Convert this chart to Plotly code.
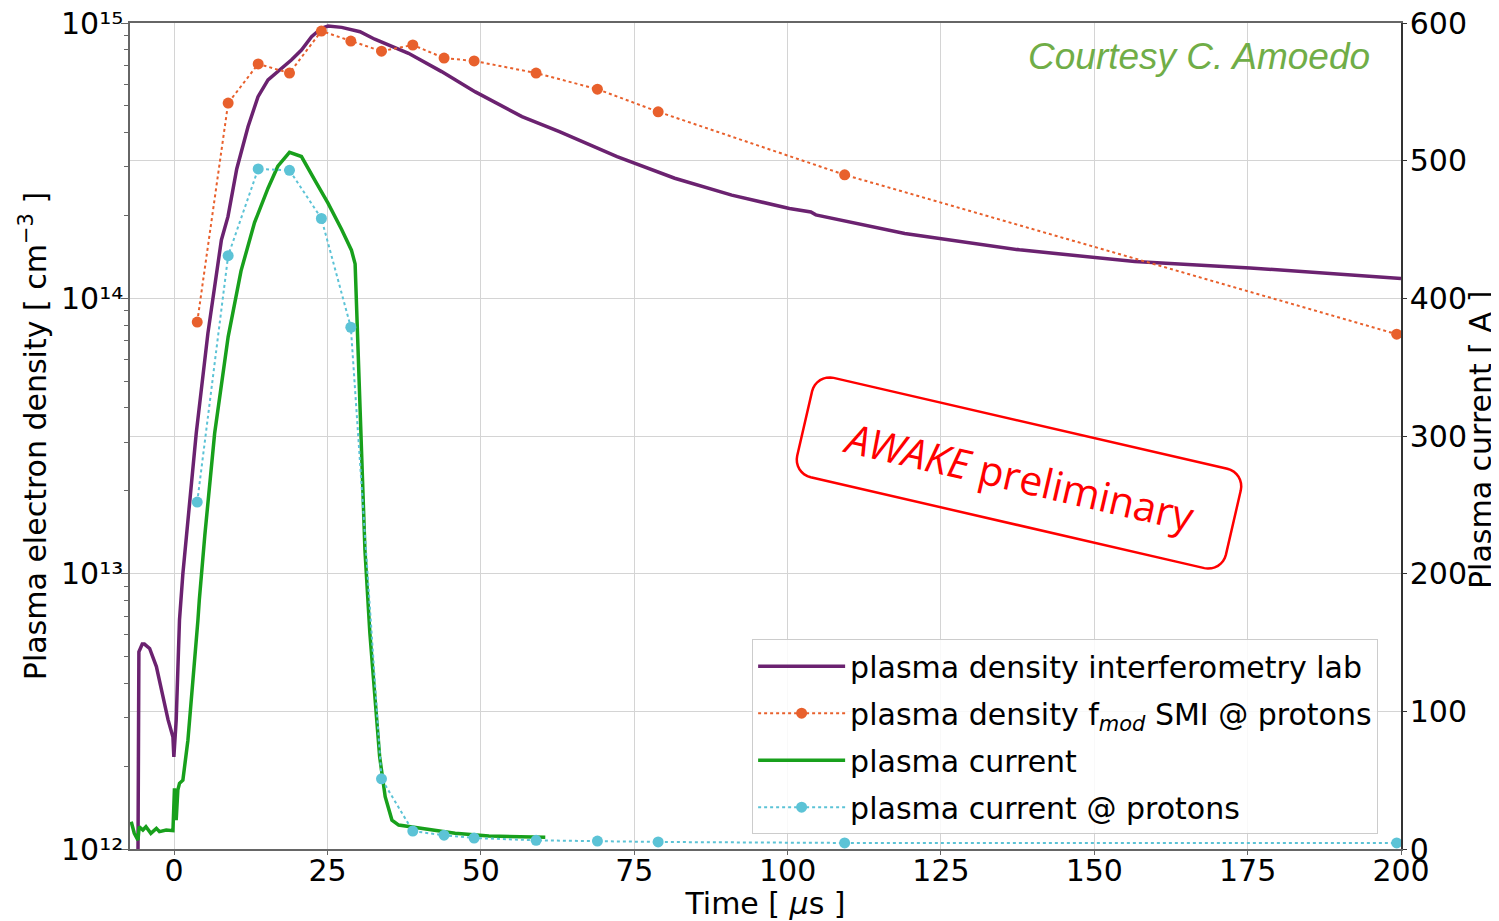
import math
import plotly.graph_objects as go

# ---------------- data ----------------
# plasma density interferometry lab (left axis, cm^-3)
dens_t = [-6.0, -5.75, -5.2, -4.85, -4.0, -2.9, -1.85, -1.0, -0.2, -0.05, 0.33, 0.87, 1.42,
          3.6, 5.5, 7.7, 8.77, 10.2, 12.04, 13.67, 15.3, 17.5, 19.1, 20.75, 22.4, 24.0, 25.1,
          27.3, 30.3, 32.7, 34.9, 38.2, 43.6, 49.1, 56.7, 62.8, 72.2, 81.6, 90.9, 100.3,
          103.8, 104.6, 119.1, 137.8, 156.6, 175.4, 200.0]
dens_v = [3e11, 5.2e12, 5.55e12, 5.55e12, 5.35e12, 4.6e12, 3.6e12, 2.95e12, 2.55e12, 2.16e12,
          2.94e12, 6.8e12, 1.0e13, 3.24e13, 7.46e13, 1.63e14, 1.98e14, 2.95e14, 4.2e14, 5.4e14,
          6.21e14, 6.84e14, 7.34e14, 7.98e14, 8.92e14, 9.57e14, 9.75e14, 9.64e14, 9.3e14,
          8.73e14, 8.32e14, 7.76e14, 6.66e14, 5.62e14, 4.57e14, 4.03e14, 3.27e14, 2.73e14,
          2.37e14, 2.12e14, 2.06e14, 2.01e14, 1.72e14, 1.50e14, 1.36e14, 1.29e14, 1.18e14]

# plasma density f_mod SMI @ protons (left axis)
smi_t = [3.76, 8.8, 13.7, 18.8, 24.0, 28.8, 33.8, 38.9, 44.0, 48.9, 59.0, 69.0, 78.9, 109.3, 199.3]
smi_v = [8.2e13, 5.12e14, 7.1e14, 6.58e14, 9.35e14, 8.6e14, 7.9e14, 8.32e14, 7.46e14, 7.28e14,
         6.58e14, 5.75e14, 4.76e14, 2.81e14, 7.41e13]

# plasma current (right axis, A)
cur_t = [-7.0, -6.5, -5.9, -5.7, -5.1, -4.6, -3.8, -2.9, -2.4, -1.3, -0.2, 0.05, 0.33, 0.6,
         0.87, 1.42, 2.24, 3.3, 3.87, 4.1, 5.0, 6.6, 8.8, 10.9, 13.1, 15.3, 16.9, 18.8, 20.75,
         22.9, 25.1, 27.3, 28.9, 29.5, 29.7, 30.0, 31.1, 31.9, 32.7, 33.5, 34.4, 35.5, 36.6,
         40.4, 45.8, 51.3, 60.5]
cur_v = [19.8, 11.4, 6.5, 16.2, 13.8, 16.2, 11.4, 15.0, 12.6, 13.8, 13.3, 44, 21, 42.9,
         47.7, 50, 79, 132, 166, 181, 228, 302, 372, 420, 455, 480, 496, 506, 503,
         486, 469, 450, 435, 425, 399, 362, 217, 157, 108, 67, 38, 21, 17.4,
         15, 11.4, 9.4, 8.5]

# plasma current @ protons (right axis)
cp_t = smi_t
cp_v = [252, 431, 494, 493, 458, 379, 51, 13, 10, 8, 6.3, 5.8, 5.1, 4.4, 4.4]

x_ticks = [0, 25, 50, 75, 100, 125, 150, 175, 200]
y_major = [1e12, 1e13, 1e14, 1e15]
y_major_text = ["10¹²", "10¹³", "10¹⁴", "10¹⁵"]
y_minor = [m * 10 ** e for e in (12, 13, 14) for m in range(2, 10)]
y2_ticks = [0, 100, 200, 300, 400, 500, 600]

PURPLE = "#6b2270"
ORANGE = "#e8602c"
GREEN = "#18a01c"
CYAN = "#5cc3d6"
FONT = "DejaVu Sans"

# ---------------- figure ----------------
fig = go.Figure()
fig.add_trace(go.Scatter(x=dens_t, y=dens_v, mode="lines", name="plasma density interferometry lab",
                         line=dict(color=PURPLE, width=3.5), legendgroup="a", yaxis="y"))
fig.add_trace(go.Scatter(x=smi_t, y=smi_v, mode="lines+markers",
                         name="plasma density f<sub><i>mod</i></sub> SMI @ protons",
                         line=dict(color=ORANGE, width=2, dash="dot"),
                         marker=dict(color=ORANGE, size=11), legendgroup="b", yaxis="y"))
fig.add_trace(go.Scatter(x=cur_t, y=cur_v, mode="lines", name="plasma current",
                         line=dict(color=GREEN, width=3.5), legendgroup="c", yaxis="y2"))
fig.add_trace(go.Scatter(x=cp_t, y=cp_v, mode="lines+markers", name="plasma current @ protons",
                         line=dict(color=CYAN, width=2, dash="dot"),
                         marker=dict(color=CYAN, size=11), legendgroup="d", yaxis="y2"))

# page offset caused by the default body margin of the html page
OFF = 8
FIG_W, FIG_H = 1499 - OFF, 921 - OFF
# plot area in page pixels
L, T, R, B = 130, 23, 1401, 849
PW, PH = R - L, B - T


def paper(px, py):
    return (px - L) / PW, (B - py) / PH


# rotated rounded rectangle stamp
cx, cy, W, H, rad, ang = 1019, 473, 440, 102, 18, math.radians(13)
pts = []
corners = [(W / 2 - rad, -H / 2 + rad, -90), (W / 2 - rad, H / 2 - rad, 0),
           (-W / 2 + rad, H / 2 - rad, 90), (-W / 2 + rad, -H / 2 + rad, 180)]
for (ccx, ccy, a0) in corners:
    for k in range(9):
        a = math.radians(a0 + 90 * k / 8)
        lx, ly = ccx + rad * math.cos(a), ccy + rad * math.sin(a)
        sx = cx + lx * math.cos(ang) - ly * math.sin(ang)
        sy = cy + lx * math.sin(ang) + ly * math.cos(ang)
        pts.append(paper(sx, sy))
path = "M " + " L ".join(f"{p[0]:.5f},{p[1]:.5f}" for p in pts) + " Z"
fig.add_shape(type="path", path=path, xref="paper", yref="paper",
              line=dict(color="red", width=2.5), fillcolor="rgba(0,0,0,0)", layer="above")

ax, ay = paper(1019, 476)
fig.add_annotation(x=ax, y=ay, xref="paper", yref="paper", text="<i>AWAKE</i> preliminary",
                   showarrow=False, textangle=13, xanchor="center", yanchor="middle",
                   font=dict(family="Open Sans", size=41, color="red"))

tx, ty = paper(1372, 57)
fig.add_annotation(x=tx, y=ty, xref="paper", yref="paper", text="<i>Courtesy C. Amoedo</i>",
                   showarrow=False, xanchor="right", yanchor="middle",
                   font=dict(family="Liberation Sans", size=37, color="#70ad47"))

# right axis title
rx, ry = paper(1480, 440)
fig.add_annotation(x=rx, y=ry, xref="paper", yref="paper", text="Plasma current [ A ]",
                   showarrow=False, textangle=-90, xanchor="center", yanchor="middle",
                   font=dict(family=FONT, size=30, color="black"))

GRID = "#d4d4d4"
AXL = "#666666"
fig.update_layout(
    width=FIG_W, height=FIG_H, autosize=False,
    margin=dict(l=L - OFF, r=FIG_W - (R - OFF), t=T - OFF, b=FIG_H - (B - OFF), pad=0),
    paper_bgcolor="white", plot_bgcolor="white",
    font=dict(family=FONT, size=30, color="black"),
    showlegend=True,
    legend=dict(x=0.982, y=0.018, xanchor="right", yanchor="bottom",
                bgcolor="rgba(255,255,255,0.85)", bordercolor="#cccccc", borderwidth=1,
                font=dict(family=FONT, size=30), tracegroupgap=5, traceorder="grouped",
                itemwidth=87),
    xaxis=dict(range=[-7.2, 200], tickvals=x_ticks, showgrid=True, gridcolor=GRID, gridwidth=1,
               showline=True, linecolor=AXL, linewidth=1.5, mirror=True,
               ticks="outside", ticklen=4, tickcolor=AXL, zeroline=False, automargin=False,
               tickfont=dict(size=30), ticklabelstandoff=-10, ticklabeloverflow="allow",
               title=dict(text="Time [ <i>μ</i>s ]", standoff=2, font=dict(size=30))),
    yaxis=dict(type="log", range=[12, 15], tickvals=y_major, ticktext=y_major_text,
               showgrid=True, gridcolor=GRID, gridwidth=1,
               showline=True, linecolor=AXL, linewidth=1.5, automargin=False,
               ticks="outside", ticklen=7, tickcolor=AXL, zeroline=False,
               minor=dict(tickvals=y_minor, ticks="outside", ticklen=4, tickcolor=AXL, showgrid=False),
               tickfont=dict(size=30), ticklabelstandoff=-8, ticklabeloverflow="allow",
               title=dict(text="Plasma electron density [ cm<sup>−3</sup> ]", standoff=6,
                          font=dict(size=30))),
    yaxis2=dict(overlaying="y", side="right", range=[0, 600], tickvals=y2_ticks,
                showgrid=True, gridcolor=GRID, gridwidth=1, automargin=False,
                showline=True, linecolor="#333333", linewidth=1.5,
                ticks="outside", ticklen=4, tickcolor="#333333", zeroline=False,
                tickfont=dict(size=30), ticklabelstandoff=-3, ticklabeloverflow="allow"),
)

fig.write_html("out.html")
